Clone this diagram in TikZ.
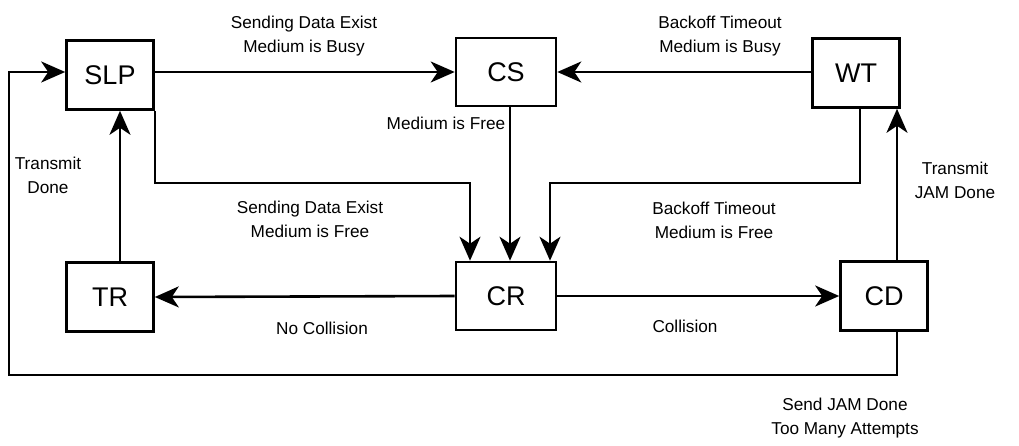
\documentclass[tikz,border=0pt]{standalone}
\usepackage{fontspec}
\setmainfont{Liberation Sans}
\usetikzlibrary{arrows.meta}
\begin{document}
\begin{tikzpicture}[x=1pt,y=-1pt,
  state/.style={draw,line width=2.6pt,minimum width=#1,minimum height=69pt,inner sep=0pt,font=\fontsize{27}{30}\selectfont},
  state/.default=87pt,
  conn/.style={line width=2.6pt,-{Stealth[length=24pt,width=21pt,inset=7pt]}},
  lbl/.style={font=\fontsize{17.2}{24}\selectfont,align=center,inner sep=0pt}]
\useasboundingbox (0,0) rectangle (1019,446);
\node[state] (SLP) at (110,75) {SLP};
\node[state=100pt,minimum height=68pt] (CS) at (506,72) {CS};
\node[state] (WT) at (856,73) {WT};
\node[state] (TR) at (110,297) {TR};
\node[state=100pt,minimum height=68pt] (CR) at (506,296) {CR};
\node[state] (CD) at (884,296) {CD};
\coordinate (b1) at (155,183);
\coordinate (b2) at (470,183);
\coordinate (w1) at (860,183);
\coordinate (w2) at (550,183);
\coordinate (d1) at (897,375);
\coordinate (d2) at (9,375);
\coordinate (d3) at (9,72);
% edges
\draw[conn] (SLP.east |- 0,72) -- (CS.west |- 0,72);
\draw[conn] (WT.west |- 0,72) -- (CS.east |- 0,72);
\draw[conn] (510,0 |- CS.south) -- (510,0 |- CR.north);
\draw[conn] (SLP.south -| b1) -- (b1) -- (b2) -- (b2 |- CR.north);
\draw[conn] (WT.south -| w1) -- (w1) -- (w2) -- (w2 |- CR.north);
\draw[conn] (TR.north -| 120,0) -- (SLP.south -| 120,0);
\draw[conn] (CR.west) -- (TR.east);
\draw[conn] (CR.east) -- (CD.west);
\draw[conn] (CD.north -| 897,0) -- (WT.south -| 897,0);
\draw[conn] (CD.south -| d1) -- (d1) -- (d2) -- (d3) -- (SLP.west |- d3);
% labels
\node[lbl] (l1) at (304,36) {Sending Data Exist\\Medium is Busy};
\node[lbl] (l2) at (720,36) {Backoff Timeout\\Medium is Busy};
\node[lbl] (l3) at (446,123) {Medium is Free};
\node[lbl] (l4) at (48,175) {Transmit\\Done};
\node[lbl] (l5) at (310,219) {Sending Data Exist\\Medium is Free};
\node[lbl] (l6) at (714,220) {Backoff Timeout\\Medium is Free};
\node[lbl] (l7) at (955,180) {Transmit\\JAM Done};
\node[lbl] (l8) at (322,328) {No Collision};
\node[lbl] (l9) at (685,326) {Collision};
\node[lbl] (l10) at (845,418) {Send JAM Done\\Too Many Attempts};
\end{tikzpicture}
\end{document}
